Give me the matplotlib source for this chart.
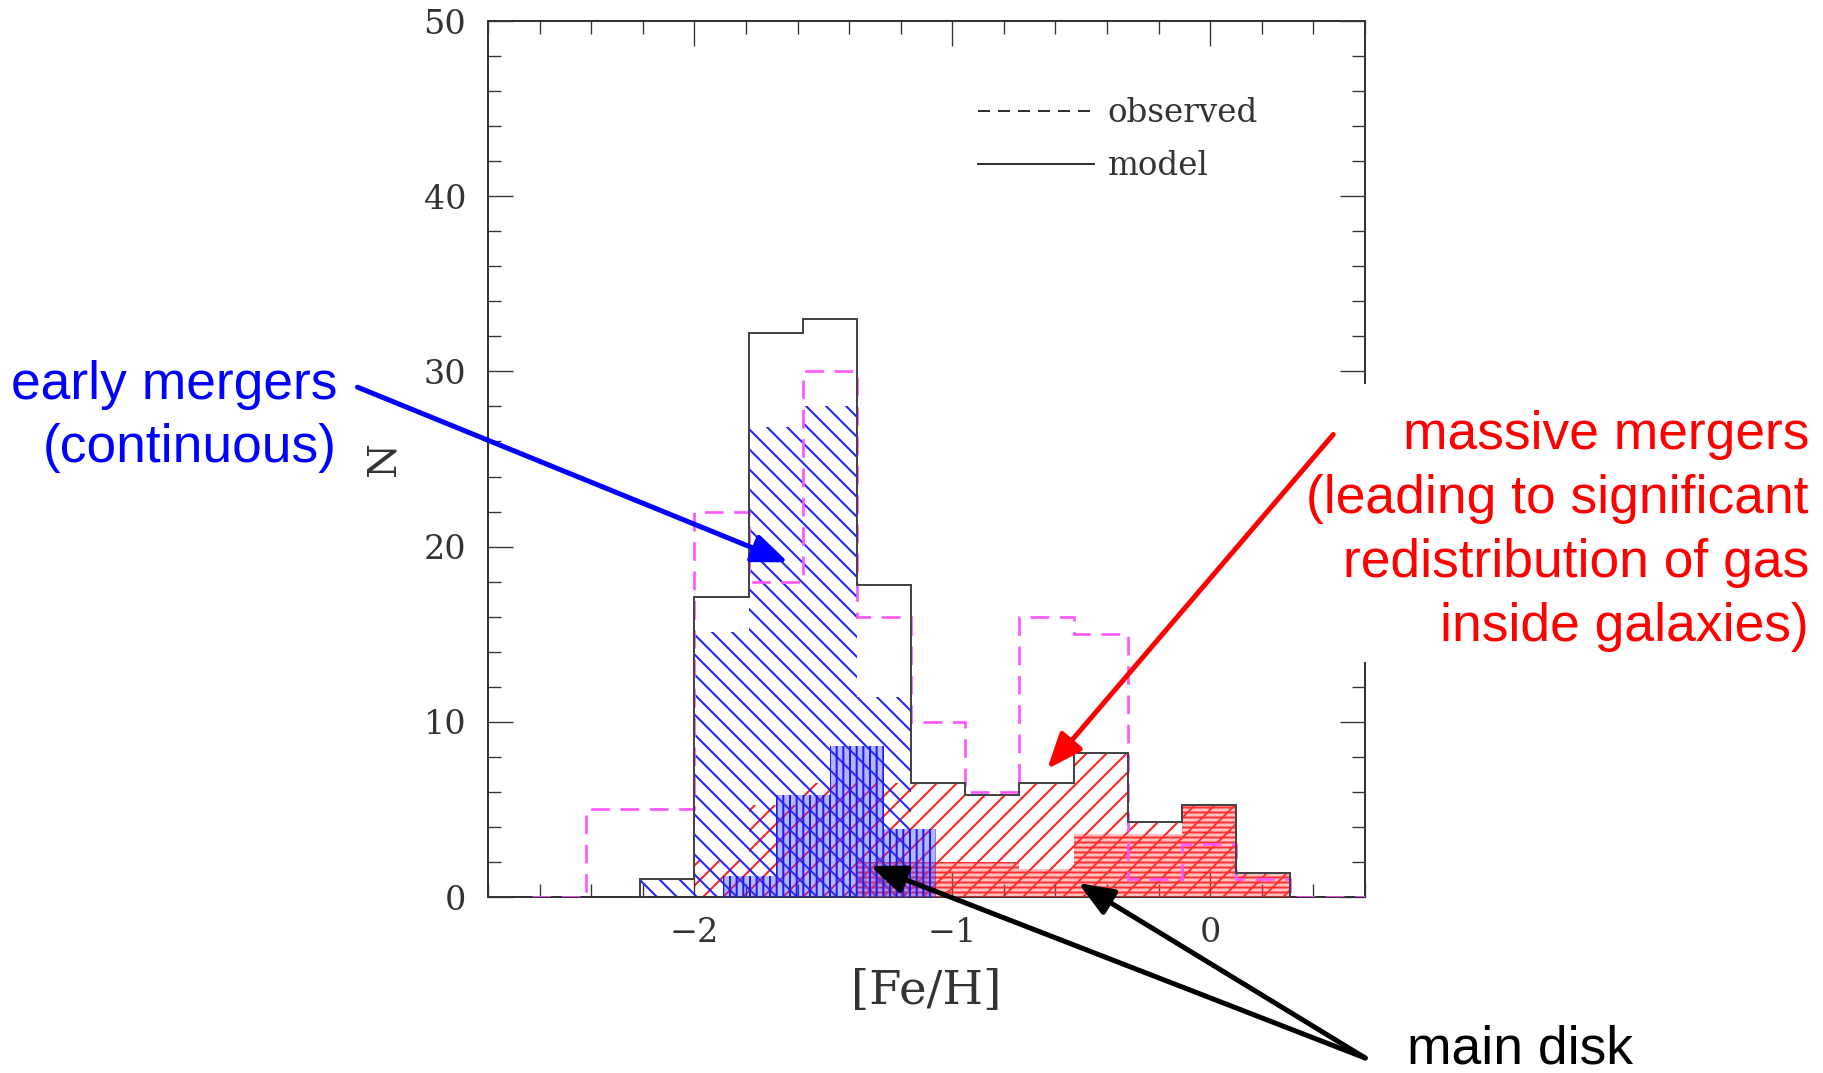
import matplotlib
matplotlib.use("Agg")
from matplotlib import pyplot as plt
from matplotlib.ticker import MultipleLocator
from matplotlib.lines import Line2D
from matplotlib.patches import Rectangle

# histogram bins (bin width ~0.21 dex)
model_edges = [-2.21, -2.0, -1.79, -1.58, -1.37, -1.16, -0.95, -0.74, -0.53, -0.32, -0.11, 0.10, 0.31]
model_counts = [1.0, 17.1, 32.2, 33.0, 17.8, 6.5, 5.8, 6.5, 8.2, 4.3, 5.25, 1.35]

obs_edges = [-2.63, -2.42, -2.21, -2.0, -1.79, -1.58, -1.37, -1.16, -0.95, -0.74, -0.53,
             -0.32, -0.11, 0.10, 0.31, 0.52, 0.73]
obs_counts = [0, 5, 5, 22, 18, 30, 16, 10, 6, 16, 15, 1, 3, 1, 0, 0]

# early mergers (blue, diagonal hatch)
early_edges = [-2.21, -2.0, -1.79, -1.58, -1.37, -1.16]
early_counts = [1.0, 15.1, 26.8, 28.0, 11.4]

# massive mergers (red, diagonal hatch)
massive_edges = [-2.0, -1.79, -1.58, -1.37, -1.16, -0.95, -0.74, -0.53, -0.32, -0.11, 0.10, 0.31]
massive_counts = [2.1, 5.25, 6.5, 6.5, 6.5, 5.8, 6.5, 8.2, 4.3, 5.25, 1.35]

# main disk, blue vertical part and red horizontal part
disk_blue_edges = [-1.89, -1.685, -1.475, -1.265, -1.065]
disk_blue_counts = [1.2, 5.8, 8.6, 3.9]
disk_red_edges = [-1.37, -1.16, -0.95, -0.74, -0.53, -0.32, -0.11, 0.10, 0.31]
disk_red_counts = [2.0, 2.0, 2.0, 1.6, 3.6, 3.6, 5.25, 1.35]

x_ticks = [-2, -1, 0]
x_ticklabels = ["\u22122", "\u22121", "0"]
y_ticks = [0, 10, 20, 30, 40, 50]

DPI = 120
W, H = 1823, 1073

plt.rcParams["font.family"] = ["DejaVu Serif"]
plt.rcParams["hatch.linewidth"] = 1.2

fig = plt.figure(figsize=(W / DPI, H / DPI), dpi=DPI)
fig.patch.set_facecolor("white")
ax = fig.add_axes([488 / W, 1 - 897 / H, 877 / W, 876 / H])

ax.stairs(massive_counts, massive_edges, fill=True, facecolor="none", edgecolor="#ff2020",
          hatch="//", linewidth=0, zorder=1)
ax.stairs(early_counts, early_edges, fill=True, facecolor="none", edgecolor="#2020ff",
          hatch="\\\\", linewidth=0, zorder=2)
ax.stairs(disk_red_counts, disk_red_edges, fill=True, facecolor=(1, 0.3, 0.3, 0.35),
          edgecolor="#ff3030", hatch="----", linewidth=0, zorder=3)
ax.stairs(disk_blue_counts, disk_blue_edges, fill=True, facecolor=(0.25, 0.25, 1, 0.38),
          edgecolor="#1a1aff", hatch="|||", linewidth=0, zorder=4)

ax.stairs(obs_counts, obs_edges, color="#ff55ff", linewidth=1.6,
          linestyle=(0, (7, 4)), zorder=5)
ax.stairs(model_counts, model_edges, color="#444444", linewidth=1.2, zorder=6)

ax.set_xlim(-2.8, 0.6)
ax.set_ylim(0, 50)
ax.set_xticks(x_ticks)
ax.set_xticklabels(x_ticklabels)
ax.set_yticks(y_ticks)
ax.xaxis.set_minor_locator(MultipleLocator(0.2))
ax.yaxis.set_minor_locator(MultipleLocator(2))
ax.tick_params(which="both", direction="in", top=True, right=True, colors="#333333",
               labelsize=20, width=0.8)
ax.tick_params(which="major", length=15)
ax.tick_params(which="minor", length=8)
ax.tick_params(axis="x", pad=12)
ax.tick_params(axis="y", pad=13)
for s in ax.spines.values():
    s.set_color("#333333")
    s.set_linewidth(1.2)

ax.set_xlabel("[Fe/H]", fontsize=28, color="#333333")
ax.xaxis.set_label_coords(0.5, -0.082)
ax.set_ylabel("N", fontsize=24, color="#333333")
ax.yaxis.set_label_coords(-0.097, 0.5)

handles = [Line2D([], [], color="#333333", lw=1.2, dashes=(6, 4)),
           Line2D([], [], color="#333333", lw=1.2)]
ax.legend(handles, ["observed", "model"], loc="upper left", bbox_to_anchor=(0.559, 0.913),
          frameon=False, fontsize=19.5, handlelength=3.55, handletextpad=0.43,
          labelspacing=0.65, borderpad=0, borderaxespad=0, labelcolor="#333333")

# annotations
sans = ["Liberation Sans", "DejaVu Sans"]
arrow = "-|>,head_length=0.4,head_width=0.16"
ax.annotate("", xy=(-1.636, 19.1), xytext=(-3.306, 29.1), annotation_clip=False,
            arrowprops=dict(arrowstyle=arrow, color="blue", lw=3, mutation_scale=45,
                            shrinkA=0, shrinkB=0), zorder=10)
ax.annotate("", xy=(-0.632, 7.3), xytext=(0.477, 26.4), annotation_clip=False,
            arrowprops=dict(arrowstyle=arrow, color="red", lw=3, mutation_scale=45,
                            shrinkA=0, shrinkB=0), zorder=10)
for tip in [(-1.318, 1.77), (-0.512, 0.8)]:
    ax.annotate("", xy=tip, xytext=(0.601, -9.19), annotation_clip=False,
                arrowprops=dict(arrowstyle=arrow, color="black", lw=3, mutation_scale=45,
                                shrinkA=0, shrinkB=0), zorder=10)

# the text block on the right hides part of the right spine
fig.patches.append(Rectangle((1338 / W, 1 - 662 / H), 45 / W, (662 - 384) / H,
                             transform=fig.transFigure, facecolor="white",
                             edgecolor="none", zorder=1))

# va="baseline" on multi-line text aligns the last line
fig.text(337 / W, 1 - 462 / H, "early mergers\n(continuous)", color="blue", fontsize=32,
         family=sans, ha="right", va="baseline", linespacing=1.337, multialignment="right")
fig.text(1809 / W, 1 - 641 / H,
         "massive mergers\n(leading to significant\nredistribution of gas\ninside galaxies)",
         color="red", fontsize=32, family=sans, ha="right", va="baseline",
         linespacing=1.358, multialignment="right")
fig.text(1407 / W, 1 - 1063 / H, "main disk", color="black", fontsize=32, family=sans,
         ha="left", va="baseline")

fig.savefig("out.png", dpi=DPI)
